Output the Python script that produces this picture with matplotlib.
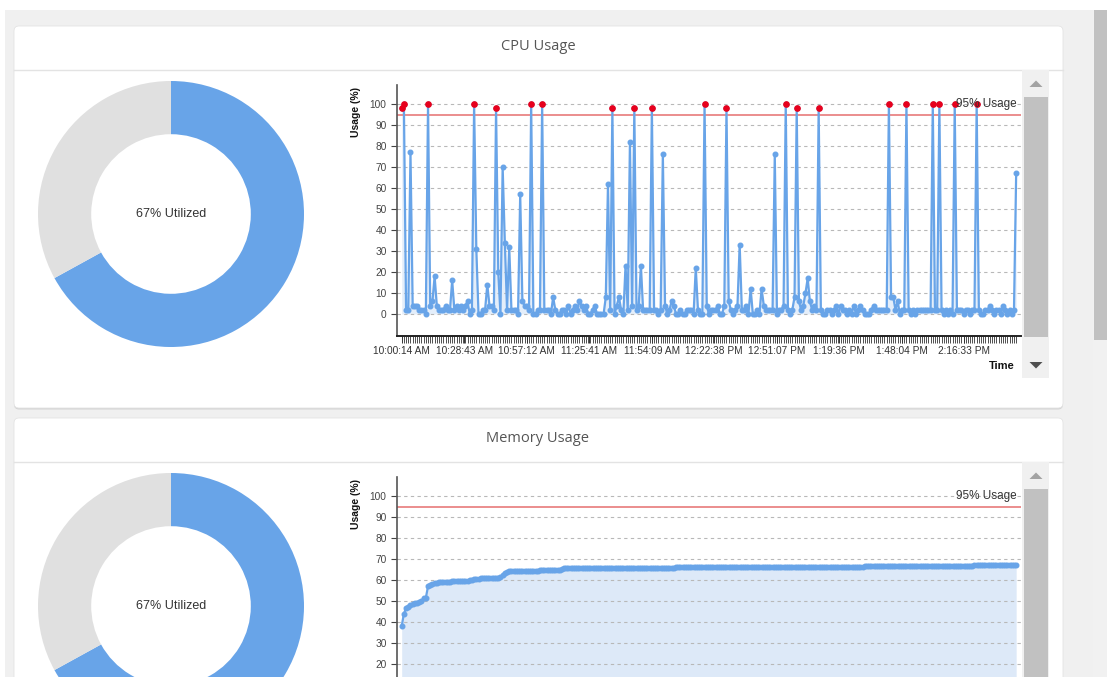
import datetime
import numpy as np
import matplotlib
matplotlib.use("Agg")
import matplotlib.pyplot as plt
from matplotlib.patches import FancyBboxPatch, Rectangle, Polygon

plt.rcParams['font.family'] = ['Liberation Sans', 'DejaVu Sans']

W, H = 1107, 677
BLUE = '#68a4e8'
GREY = '#e0e0e0'
RED_DOT = '#e8001c'

THRESHOLD = 95
SAMPLE_SECONDS = 60
CPU_UTILIZED = 67
MEM_UTILIZED = 67
TICK_LABELS = ["10:00:14 AM", "10:28:43 AM", "10:57:12 AM", "11:25:41 AM", "11:54:09 AM",
               "12:22:38 PM", "12:51:07 PM", "1:19:36 PM", "1:48:04 PM", "2:16:33 PM"]

# cpu usage (%) one sample per minute
CPU_USAGE = [
    98, 100, 2, 2, 77, 4, 4, 4, 2, 2,
    2, 0, 100, 4, 6, 18, 4, 2, 2, 2,
    4, 2, 2, 16, 2, 4, 2, 4, 2, 4,
    6, 0, 2, 100, 31, 0, 0, 2, 2, 14,
    4, 4, 2, 98, 20, 0, 70, 34, 2, 32,
    2, 2, 2, 0, 57, 6, 4, 4, 2, 100,
    0, 0, 2, 2, 100, 2, 2, 2, 0, 8,
    2, 0, 0, 2, 2, 0, 4, 0, 2, 4,
    2, 6, 4, 2, 4, 0, 0, 2, 4, 0,
    0, 0, 0, 8, 62, 2, 98, 0, 4, 8,
    2, 0, 23, 2, 82, 4, 98, 2, 4, 23,
    2, 2, 2, 2, 98, 2, 2, 0, 2, 76,
    4, 0, 2, 6, 4, 0, 0, 2, 0, 0,
    2, 2, 2, 0, 22, 2, 0, 0, 100, 4,
    0, 2, 2, 2, 4, 0, 0, 4, 98, 6,
    2, 0, 2, 4, 33, 2, 2, 4, 0, 12,
    0, 0, 2, 0, 12, 4, 2, 2, 2, 2,
    76, 0, 2, 2, 4, 100, 2, 0, 2, 8,
    98, 6, 2, 4, 10, 17, 6, 2, 4, 2,
    98, 2, 0, 0, 2, 2, 0, 2, 4, 0,
    4, 2, 2, 0, 2, 0, 4, 0, 2, 4,
    2, 0, 0, 0, 2, 4, 2, 2, 2, 2,
    2, 2, 100, 8, 8, 2, 6, 0, 2, 2,
    100, 2, 0, 2, 0, 2, 2, 2, 2, 2,
    2, 2, 100, 2, 2, 100, 2, 0, 2, 0,
    2, 0, 100, 2, 2, 2, 0, 2, 2, 0,
    2, 2, 100, 2, 0, 0, 2, 2, 4, 2,
    0, 2, 2, 0, 4, 2, 0, 2, 0, 2,
    67,
]

# memory usage (%) on the same one-minute samples
MEMORY_USAGE = [
    38, 44, 46.5, 47, 48, 48.5, 49, 49, 49.5, 50,
    51.5, 51.5, 57, 57.5, 58, 58.5, 58.7, 58.9, 59, 59,
    59.1, 59.2, 59.2, 59.3, 59.3, 59.4, 59.4, 59.5, 59.5, 59.6,
    59.7, 59.8, 60.0, 60.5, 60.6, 60.7, 60.8, 60.9, 61.0, 61.0,
    61.0, 61.1, 61.1, 61.1, 61.1, 61.2, 62.5, 63.5, 64.0, 64.3,
    64.4, 64.4, 64.4, 64.4, 64.5, 64.5, 64.5, 64.5, 64.5, 64.5,
    64.5, 64.5, 64.5, 64.6, 64.6, 64.6, 64.6, 64.6, 64.6, 64.6,
    64.6, 64.7, 64.7, 65.4, 65.5, 65.6, 65.6, 65.6, 65.6, 65.6,
    65.7, 65.7, 65.7, 65.7, 65.7, 65.7, 65.7, 65.7, 65.7, 65.8,
    65.8, 65.8, 65.8, 65.8, 65.8, 65.8, 65.8, 65.8, 65.8, 65.8,
    65.8, 65.8, 65.8, 65.8, 65.8, 65.9, 65.9, 65.9, 65.9, 65.9,
    65.9, 65.9, 65.9, 65.9, 65.9, 65.9, 65.9, 65.9, 65.9, 65.9,
    65.9, 65.9, 65.9, 65.9, 65.9, 66.0, 66.0, 66.0, 66.0, 66.0,
    66.0, 66.0, 66.0, 66.0, 66.0, 66.0, 66.0, 66.0, 66.0, 66.0,
    66.0, 66.0, 66.0, 66.0, 66.0, 66.0, 66.0, 66.0, 66.1, 66.1,
    66.1, 66.1, 66.1, 66.1, 66.1, 66.1, 66.1, 66.1, 66.1, 66.1,
    66.1, 66.1, 66.1, 66.1, 66.1, 66.1, 66.1, 66.2, 66.2, 66.2,
    66.2, 66.2, 66.2, 66.2, 66.2, 66.2, 66.2, 66.2, 66.2, 66.2,
    66.2, 66.2, 66.2, 66.2, 66.2, 66.2, 66.3, 66.3, 66.3, 66.3,
    66.3, 66.3, 66.3, 66.3, 66.3, 66.3, 66.3, 66.3, 66.3, 66.3,
    66.3, 66.3, 66.3, 66.3, 66.3, 66.3, 66.3, 66.4, 66.4, 66.4,
    66.4, 66.8, 66.8, 66.8, 66.8, 66.8, 66.8, 66.8, 66.8, 66.8,
    66.8, 66.8, 66.8, 66.8, 66.8, 66.8, 66.8, 66.8, 66.8, 66.8,
    66.8, 66.8, 66.8, 66.8, 66.8, 66.8, 66.9, 66.9, 66.9, 66.9,
    66.9, 66.9, 66.9, 66.9, 66.9, 66.9, 66.9, 66.9, 66.9, 66.9,
    66.9, 66.9, 66.9, 66.9, 66.9, 66.9, 66.9, 66.9, 66.9, 66.9,
    66.9, 67.0, 67.0, 67.0, 67.0, 67.0, 67.0, 67.0, 67.0, 67.0,
    67.0, 67.0, 67.0, 67.0, 67.0, 67.0, 67.0, 67.0, 67.0, 67.0,
    67.2,
]


def px_axes(fig, left, top, right, bottom):
    # axes placed with page pixel coordinates (y down)
    return fig.add_axes([left / W, 1 - bottom / H, (right - left) / W, (bottom - top) / H])


def tick_seconds(labels):
    t0 = datetime.datetime.strptime(labels[0], "%I:%M:%S %p")
    return [(datetime.datetime.strptime(s, "%I:%M:%S %p") - t0).total_seconds() for s in labels]


def draw_card(bg, top, title, show_time):
    shadow = FancyBboxPatch((14, top + 1.5), 1049, 382, boxstyle="round,pad=0,rounding_size=5",
                            fc='#d4d4d4', ec='none', zorder=1)
    card = FancyBboxPatch((14, top), 1049, 382, boxstyle="round,pad=0,rounding_size=5",
                          fc='white', ec='#e4e4e4', lw=0.6, zorder=2)
    bg.add_patch(shadow)
    bg.add_patch(card)
    bg.plot([14, 1063], [top + 43.5, top + 43.5], color='#e3e3e3', lw=1, zorder=3)
    bg.text(538, top + 21, title, ha='center', va='center', fontsize=10.5,
            color='#555555', family=['Open Sans', 'DejaVu Sans'], zorder=3)
    # little scroll widget next to the chart
    bg.add_patch(Rectangle((1022, top + 44), 27, 308, fc='#f0f0f0', ec='none', zorder=3))
    bg.add_patch(Rectangle((1024, top + 71), 24, 240, fc='#c1c1c1', ec='none', zorder=4))
    bg.add_patch(Polygon([(1029.5, top + 61), (1042.5, top + 61), (1036, top + 54.5)],
                         fc='#a3a3a3', ec='none', zorder=4))
    bg.add_patch(Polygon([(1029.5, top + 336), (1042.5, top + 336), (1036, top + 342.5)],
                         fc='#4f4f4f', ec='none', zorder=4))
    bg.text(356, top + 86, 'Usage (%)', rotation=90, ha='center', va='center',
            fontsize=7.5, fontweight='bold', color='#111', zorder=5)
    if show_time:
        bg.text(1002, top + 340, 'Time', ha='center', va='center',
                fontsize=8, fontweight='bold', color='#111', zorder=5)


def draw_donut(fig, cy, pct):
    ax = px_axes(fig, 38, cy - 133, 304, cy + 133)
    ax.pie([pct, 100 - pct], colors=[BLUE, GREY], startangle=90, counterclock=False,
           wedgeprops=dict(width=0.4, edgecolor='none'))
    ax.set_xlim(-1, 1)
    ax.set_ylim(-1, 1)
    ax.set_aspect('equal')
    ax.axis('off')
    ax.text(0, 0, f"{pct}% Utilized", ha='center', va='center', fontsize=9, color='#333')


def draw_usage(fig, top, values, fill_color, fill_alpha, show_labels):
    ax = px_axes(fig, 397, top + 59, 1021, top + 310)
    ax.patch.set_alpha(0)
    v = np.array(values, dtype=float)
    t = np.arange(len(v)) * SAMPLE_SECONDS
    ax.fill_between(t, 0, v, color=fill_color, alpha=fill_alpha, lw=0, zorder=1)
    for y in range(0, 101, 10):
        ax.axhline(y, color='#b8b8b8', lw=0.8, ls=(0, (3, 3)), zorder=1.5)
    ax.axhline(THRESHOLD, color='#e98585', lw=1.3, zorder=2)
    ax.plot(t, v, color=BLUE, lw=1.6, marker='o', ms=3.3, mfc=BLUE, mec=BLUE, zorder=3)
    hot = v >= THRESHOLD
    ax.plot(t[hot], v[hot], 'o', ms=3.8, color=RED_DOT, zorder=4)
    ax.set_ylim(-10.48, 109.05)
    ax.set_xlim(-128.5, 16932)
    # lower half of the memory panel falls below the page
    ax.set_yticks(range(0, 101, 10) if show_labels else range(20, 101, 10))
    ax.tick_params(axis='y', labelsize=7.3, labelcolor='#444', length=4, color='#444', width=0.8)
    ax.set_xticks(tick_seconds(TICK_LABELS))
    ax.set_xticklabels(TICK_LABELS if show_labels else [])
    ax.set_xticks(t, minor=True)
    ax.tick_params(axis='x', which='major', labelsize=7.3, labelcolor='#333', length=5,
                   color='#333', width=0.7, pad=2)
    ax.tick_params(axis='x', which='minor', length=5, color='#333', width=0.6)
    for s in ('top', 'right'):
        ax.spines[s].set_visible(False)
    ax.spines['left'].set_color('#555')
    ax.spines['left'].set_linewidth(1.2)
    ax.spines['bottom'].set_color('#222')
    ax.spines['bottom'].set_linewidth(1.4)
    ax.text(0.9935, 100, '95% Usage', transform=ax.get_yaxis_transform(), ha='right',
            va='center', fontsize=8.5, color='#333', zorder=5)
    return ax


fig = plt.figure(figsize=(W / 100, H / 100), dpi=100)
bg = fig.add_axes([0, 0, 1, 1])
bg.set_xlim(0, W)
bg.set_ylim(H, 0)
bg.axis('off')
bg.add_patch(Rectangle((0, 0), W, H, fc='white', ec='none', zorder=0))
bg.add_patch(Rectangle((5, 10), 1088, H, fc='#f0f0f0', ec='none', zorder=0.5))
bg.add_patch(Rectangle((1093, 10), 14, H, fc='#f1f1f1', ec='none', zorder=0.5))
bg.add_patch(Rectangle((1094, 10), 13, 330, fc='#c1c1c1', ec='none', zorder=0.6))

draw_card(bg, 26, 'CPU Usage', True)
draw_card(bg, 418, 'Memory Usage', False)

draw_donut(fig, 214, CPU_UTILIZED)
draw_donut(fig, 606, MEM_UTILIZED)
draw_usage(fig, 26, CPU_USAGE, '#cfe0f7', 0.55, True)
draw_usage(fig, 418, MEMORY_USAGE, '#dde9f8', 1.0, False)

fig.savefig('out.png', dpi=100)
